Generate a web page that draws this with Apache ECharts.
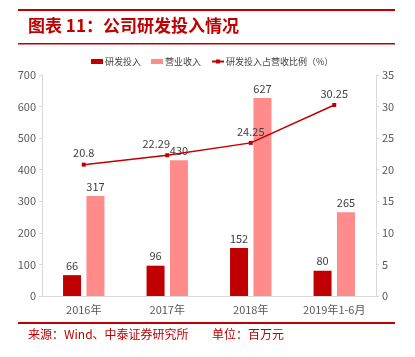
<!DOCTYPE html>
<html><head><meta charset="utf-8">
<script src="https://cdn.jsdelivr.net/npm/echarts@6/dist/echarts.min.js"></script>
<style>html,body{margin:0;padding:0;background:#fff}#c{width:415px;height:357px}</style>
</head><body><div id="c"></div>
<script>
const categories = ['2016年', '2017年', '2018年', '2019年1-6月'];
const rdSpend = [66, 96, 152, 80];
const revenue = [317, 430, 627, 265];
const rdRatio = [20.8, 22.29, 24.25, 30.25];
const leftTicks = {min: 0, max: 700, interval: 100};
const rightTicks = {min: 0, max: 35, interval: 5};

const red = '#c00000';
const pink = '#ff8b8b';
const txt = '#595959';
const font = '"Noto Sans CJK SC", "Liberation Sans", sans-serif';

const chart = echarts.init(document.getElementById('c'), null, {renderer: 'canvas'});
chart.setOption({
  animation: false,
  textStyle: {fontFamily: font},
  graphic: [
    {type: 'rect', shape: {x: 18, y: 9, width: 377, height: 2}, style: {fill: red}},
    {type: 'text', left: 28, top: 17, style: {text: '图表 11：公司研发投入情况', fill: red, font: 'bold 17px ' + font}},
    {type: 'rect', shape: {x: 18, y: 43, width: 377, height: 1.5}, style: {fill: red}},
    {type: 'rect', shape: {x: 18, y: 322, width: 377, height: 2}, style: {fill: red}},
    {type: 'text', left: 28, top: 328, style: {text: '来源：Wind、中泰证券研究所', fill: red, font: '12px ' + font}},
    {type: 'text', left: 212, top: 328, style: {text: '单位：百万元', fill: red, font: '12px ' + font}}
  ],
  legend: {
    top: 52, left: 86,
    itemWidth: 12, itemHeight: 5, itemGap: 10,
    textStyle: {color: '#404040', fontSize: 9, fontFamily: font, padding: [0, 0, 0, -3]},
    data: [
      {name: '研发投入', icon: 'rect'},
      {name: '营业收入', icon: 'rect'},
      {name: '研发投入占营收比例（%）'}
    ]
  },
  grid: {left: 42, right: 39, top: 75, bottom: 61},
  xAxis: {
    type: 'category', data: categories,
    axisLine: {lineStyle: {color: '#d9d9d9'}},
    axisTick: {show: false},
    axisLabel: {color: txt, fontSize: 11, margin: 8}
  },
  yAxis: [
    {type: 'value', min: leftTicks.min, max: leftTicks.max, interval: leftTicks.interval,
     splitLine: {show: false},
     axisLine: {show: true, lineStyle: {color: '#d9d9d9'}},
     axisTick: {show: true, length: 3, lineStyle: {color: '#d9d9d9'}},
     axisLabel: {color: txt, fontSize: 11, margin: 6}},
    {type: 'value', min: rightTicks.min, max: rightTicks.max, interval: rightTicks.interval,
     splitLine: {show: false},
     axisLine: {show: true, lineStyle: {color: '#d9d9d9'}},
     axisTick: {show: true, length: 3, lineStyle: {color: '#d9d9d9'}},
     axisLabel: {color: txt, fontSize: 11, margin: 6}}
  ],
  series: [
    {name: '研发投入', type: 'bar', data: rdSpend, barWidth: 18, barGap: '30%',
     itemStyle: {color: red},
     label: {show: true, position: 'top', color: '#404040', fontSize: 11, distance: 4}},
    {name: '营业收入', type: 'bar', data: revenue, barWidth: 18,
     itemStyle: {color: pink},
     label: {show: true, position: 'top', color: '#404040', fontSize: 11, distance: 4}},
    {name: '研发投入占营收比例（%）', type: 'line', yAxisIndex: 1,
     data: rdRatio.map((v, i) => i === 1 ? {value: v, label: {offset: [-11, 0]}} : v),
     symbol: 'rect', symbolSize: 4, showAllSymbol: true,
     lineStyle: {color: red, width: 1.5}, itemStyle: {color: red},
     label: {show: true, position: 'top', distance: 4, color: '#404040', fontSize: 11}}
  ]
});
</script></body></html>
